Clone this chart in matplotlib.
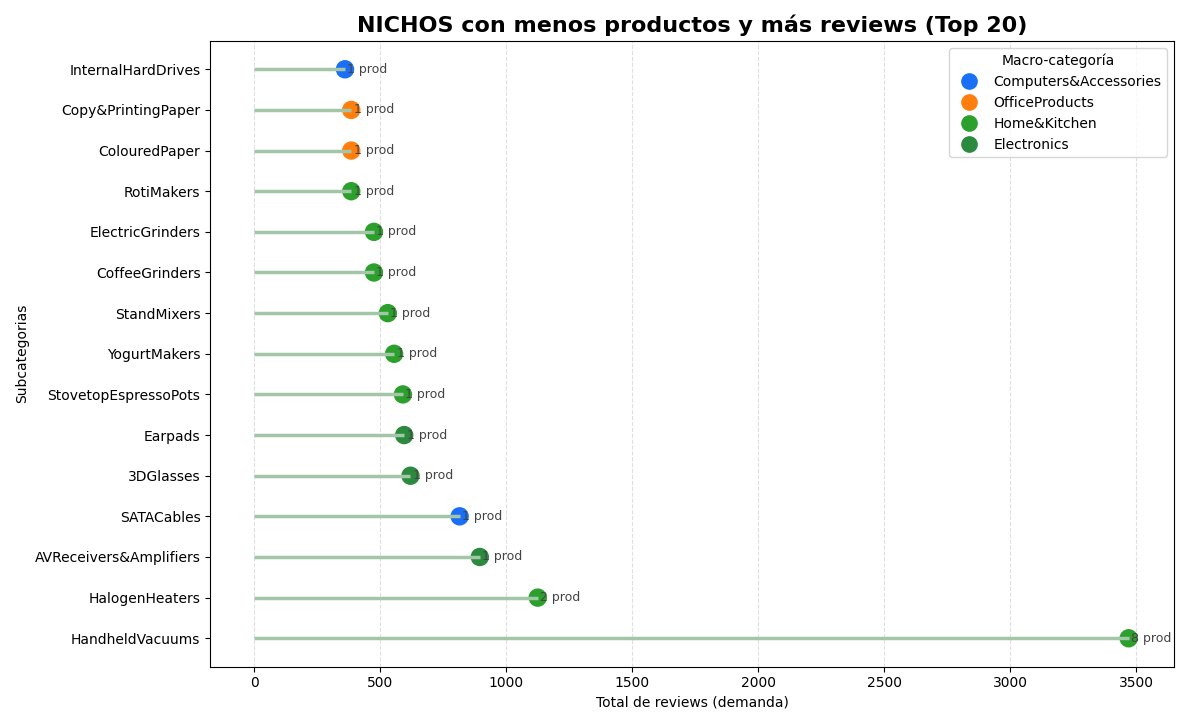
import matplotlib
matplotlib.use("Agg")
import matplotlib.pyplot as plt
from matplotlib.lines import Line2D

# data, top to bottom
subcats = ["InternalHardDrives", "Copy&PrintingPaper", "ColouredPaper", "RotiMakers",
           "ElectricGrinders", "CoffeeGrinders", "StandMixers", "YogurtMakers",
           "StovetopEspressoPots", "Earpads", "3DGlasses", "SATACables",
           "AVReceivers&Amplifiers", "HalogenHeaters", "HandheldVacuums"]
reviews = [360, 385, 385, 385, 475, 475, 530, 555, 590, 595, 620, 815, 895, 1125, 3470]
n_prod = [1, 1, 1, 1, 1, 1, 1, 1, 1, 1, 1, 1, 1, 2, 8]
macro = ["Computers&Accessories", "OfficeProducts", "OfficeProducts", "Home&Kitchen",
         "Home&Kitchen", "Home&Kitchen", "Home&Kitchen", "Home&Kitchen",
         "Home&Kitchen", "Electronics", "Electronics", "Computers&Accessories",
         "Electronics", "Home&Kitchen", "Home&Kitchen"]

colors = {"Computers&Accessories": "#1a6ff5", "OfficeProducts": "#ff7f0e",
          "Home&Kitchen": "#2ca02c", "Electronics": "#2b8a3e"}

fig, ax = plt.subplots(figsize=(11.89, 7.25), dpi=100)
ys = list(range(len(subcats)))[::-1]

ax.scatter(reviews, ys, s=150, c=[colors[m] for m in macro], zorder=2)
ax.hlines(ys, 0, reviews, color="#a3c6a8", linewidth=2.5, zorder=3)
for x, y, n in zip(reviews, ys, n_prod):
    ax.text(x + 10, y, f"{n} prod", va="center", ha="left", fontsize=9, color="#444444", zorder=4)

ax.set_yticks(ys)
ax.set_yticklabels(subcats)
ax.set_xlim(-175, 3650)
ax.set_ylim(-0.7, len(subcats) - 0.3)
ax.grid(axis="x", linestyle="--", alpha=0.4)
ax.set_axisbelow(True)
ax.set_xlabel("Total de reviews (demanda)")
ax.set_ylabel("Subcategorias")
ax.set_title("NICHOS con menos productos y más reviews (Top 20)", fontsize=16, fontweight="bold")

handles = [Line2D([0], [0], marker="o", linestyle="", markersize=11, color=c, label=m)
           for m, c in colors.items()]
ax.legend(handles=handles, title="Macro-categoría", loc="upper right")

plt.tight_layout()
plt.savefig("out.png")
